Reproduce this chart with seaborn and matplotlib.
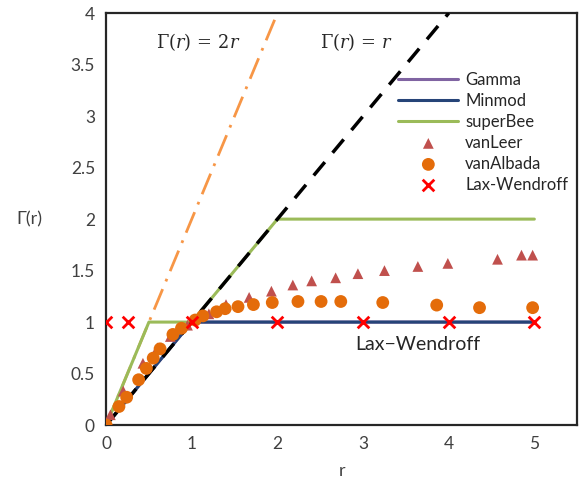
import numpy as np
import pandas as pd
import seaborn as sns
import matplotlib.pyplot as plt

sns.set_style("white")
plt.rcParams['font.family'] = ['Lato', 'DejaVu Sans']
plt.rcParams['mathtext.fontset'] = 'dejavuserif'

# Limiter lines
line_r = [0, 1, 5]
gamma_y = [0, 1, 1]
minmod_y = [0, 1, 1]
superbee_r = [0, 0.5, 1, 2, 5]
superbee_y = [0, 1, 1, 2, 2]

# Reference lines
ref1_r = [0, 4]
ref1_y = [0, 4]
ref2_r = [0, 2]
ref2_y = [0, 4]

# Scatter data
vanleer_r = [0.0, 0.05, 0.2, 0.43, 0.6, 0.75, 0.95, 1.2, 1.4, 1.67, 1.93, 2.18, 2.4,
             2.68, 2.94, 3.25, 3.64, 3.99, 4.57, 4.85, 4.98]
vanleer_y = [0.0, 0.1, 0.33, 0.6, 0.75, 0.86, 0.97, 1.08, 1.17, 1.24, 1.30, 1.36, 1.40,
             1.43, 1.47, 1.50, 1.54, 1.57, 1.61, 1.65, 1.65]
vanalbada_r = [0.0, 0.15, 0.24, 0.38, 0.47, 0.55, 0.63, 0.78, 0.88, 1.04, 1.13, 1.29, 1.39,
               1.54, 1.72, 1.94, 2.24, 2.51, 2.74, 3.23, 3.86, 4.36, 4.98]
vanalbada_y = [0.0, 0.18, 0.27, 0.44, 0.55, 0.65, 0.74, 0.88, 0.94, 1.02, 1.06, 1.10, 1.13,
               1.15, 1.17, 1.19, 1.20, 1.20, 1.20, 1.19, 1.165, 1.14, 1.14]
lw_r = [0, 0.25, 1, 2, 3, 4, 5]
lw_y = [1, 1, 1, 1, 1, 1, 1]

fig, ax = plt.subplots(figsize=(5.83, 4.88), dpi=100)
fig.subplots_adjust(left=0.182, right=0.99, top=0.973, bottom=0.129)

sns.lineplot(x=ref2_r, y=ref2_y, ax=ax, color='#F79646', lw=2, linestyle=(0, (8, 3, 1, 3)), zorder=2)
sns.lineplot(x=line_r, y=gamma_y, ax=ax, color='#8064A2', lw=2.2, label='Gamma', zorder=3)
sns.lineplot(x=line_r, y=minmod_y, ax=ax, color='#264478', lw=2.2, label='Minmod', zorder=3)
sns.lineplot(x=superbee_r, y=superbee_y, ax=ax, color='#9BBB59', lw=2.2, label='superBee', zorder=3)
sns.lineplot(x=ref1_r, y=ref1_y, ax=ax, color='black', lw=2.5, linestyle=(0, (5, 3.5)), zorder=4)

sns.scatterplot(x=vanleer_r, y=vanleer_y, ax=ax, marker='^', color='#C0504D', s=60,
                edgecolor='none', label='vanLeer', zorder=5)
sns.scatterplot(x=vanalbada_r, y=vanalbada_y, ax=ax, marker='o', color='#E46C0A', s=85,
                edgecolor='none', label='vanAlbada', zorder=6)
sns.scatterplot(x=lw_r, y=lw_y, ax=ax, marker='x', color='#FF0000', s=70,
                linewidth=2, label='Lax-Wendroff', zorder=7)

ax.text(1.08, 3.72, r'$\Gamma(r)\,=\,2r$', fontsize=12.8, ha='center', va='center')
ax.text(2.93, 3.72, r'$\Gamma(r)\,=\,r$', fontsize=12.8, ha='center', va='center')
ax.text(3.64, 0.78, 'Lax\u2212Wendroff', fontsize=14, ha='center', va='center', color='#262626')

ax.set_xlim(0, 5.5)
ax.set_ylim(0, 4)
ax.set_xticks([0, 1, 2, 3, 4, 5])
ax.set_yticks([0, 0.5, 1, 1.5, 2, 2.5, 3, 3.5, 4])
ax.set_yticklabels(['0', '0.5', '1', '1.5', '2', '2.5', '3', '3.5', '4'])
ax.tick_params(length=0, labelsize=12.5, labelcolor='#404040', pad=8)
ax.set_xlabel('r', fontsize=13, color='#404040', labelpad=8)
ax.set_ylabel('\u0393(r)', fontsize=13, color='#404040', rotation=0, labelpad=30, va='center')

for sp in ax.spines.values():
    sp.set_color('#262626')
    sp.set_linewidth(1.6)

ax.legend(loc='upper right', bbox_to_anchor=(1.0, 0.88), frameon=False, fontsize=12,
          handlelength=3.6, labelspacing=0.3, handletextpad=0.4, borderaxespad=0.15)

fig.savefig('out.png', dpi=100)
